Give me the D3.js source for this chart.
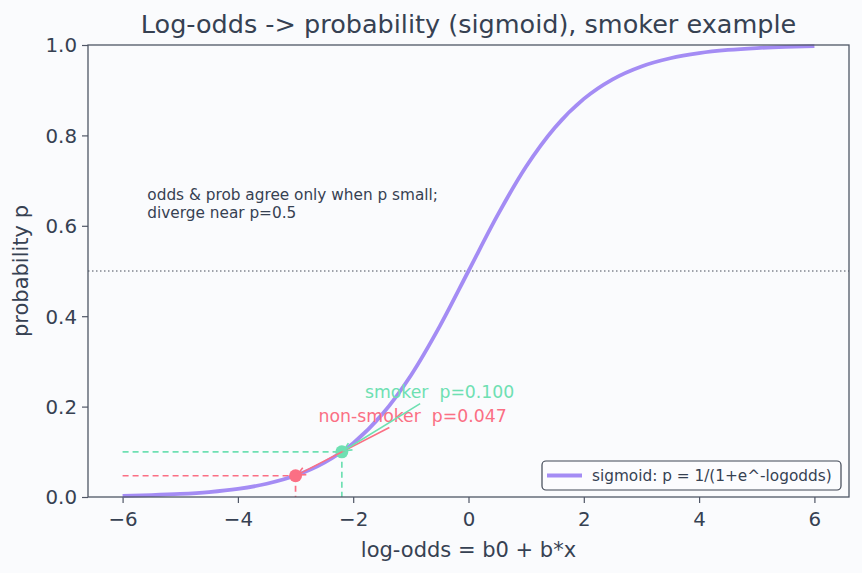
<!DOCTYPE html>
<html><head><meta charset="utf-8">
<script src="https://cdn.jsdelivr.net/npm/d3@7"></script>
<style>
html,body{margin:0;padding:0;background:#fafbfd;}
svg{display:block;font-family:"DejaVu Sans",sans-serif;}
</style></head>
<body><svg id="c" width="862" height="573"></svg>
<script>
// log-odds grid and sigmoid probabilities
const logodds = [-6,-5.5,-5,-4.5,-4,-3.5,-3,-2.5,-2,-1.5,-1,-0.5,0,0.5,1,1.5,2,2.5,3,3.5,4,4.5,5,5.5,6];
const prob = [0.0025,0.0041,0.0067,0.0110,0.0180,0.0293,0.0474,0.0759,0.1192,0.1824,0.2689,0.3775,0.5,0.6225,0.7311,0.8176,0.8808,0.9241,0.9526,0.9707,0.9820,0.9890,0.9933,0.9959,0.9975];
const groups = ["non-smoker","smoker"];
const groupLogodds = [-3.0, -2.197];
const groupProb = [0.047, 0.100];
const groupColors = ["#fb6f84","#6ee0b2"];
const xTicks = [-6,-4,-2,0,2,4,6];
const yTicks = [0,0.2,0.4,0.6,0.8,1.0];

const svg = d3.select("#c");
const m = {l:88, r:849, t:45, b:497};
const x = d3.scaleLinear().domain([-6.6,6.6]).range([m.l,m.r]);
const y = d3.scaleLinear().domain([0,1]).range([m.b,m.t]);
const ink = "#364152", spine = "#4f5666";

svg.append("rect").attr("width",862).attr("height",573).attr("fill","#fafbfd");

// axes
const gx = svg.append("g").attr("transform",`translate(0,${m.b})`)
  .call(d3.axisBottom(x).tickValues(xTicks).tickSize(6).tickPadding(5).tickFormat(d=>d<0?"\u2212"+Math.abs(d):d));
const gy = svg.append("g").attr("transform",`translate(${m.l},0)`)
  .call(d3.axisLeft(y).tickValues(yTicks).tickSize(6).tickPadding(5).tickFormat(d3.format(".1f")));
[gx,gy].forEach(g=>{
  g.select(".domain").remove();
  g.selectAll(".tick line").attr("stroke",spine).attr("stroke-width",1.2);
  g.selectAll(".tick text").attr("fill",ink).attr("font-size",19.8).attr("font-family","DejaVu Sans");
});
gx.selectAll(".tick text").attr("dy","0.9em");
gy.selectAll(".tick text").attr("dy","0.35em");

// dotted p = 0.5 line
svg.append("line").attr("x1",m.l).attr("x2",m.r).attr("y1",y(0.5)).attr("y2",y(0.5))
  .attr("stroke","#444b58").attr("stroke-width",1).attr("stroke-dasharray","1.5,2.5");

// dashed guides
groups.forEach((g,i)=>{
  svg.append("line").attr("x1",x(-6)).attr("x2",x(groupLogodds[i])).attr("y1",y(groupProb[i])).attr("y2",y(groupProb[i]))
    .attr("stroke",groupColors[i]).attr("stroke-width",1.7).attr("stroke-dasharray","6,4");
  svg.append("line").attr("x1",x(groupLogodds[i])).attr("x2",x(groupLogodds[i])).attr("y1",y(groupProb[i])).attr("y2",y(0))
    .attr("stroke",groupColors[i]).attr("stroke-width",1.7).attr("stroke-dasharray","6,4");
});

// sigmoid
const pts = logodds.map((v,i)=>[v,prob[i]]);
svg.append("path").datum(pts)
  .attr("d",d3.line().x(d=>x(d[0])).y(d=>y(d[1])).curve(d3.curveMonotoneX))
  .attr("fill","none").attr("stroke","#a48cf4").attr("stroke-width",3.8);

// points
groups.forEach((g,i)=>{
  svg.append("circle").attr("cx",x(groupLogodds[i])).attr("cy",y(groupProb[i])).attr("r",6.5).attr("fill",groupColors[i]);
});

// annotations
groups.forEach((g,i)=>{
  const tx = x(groupLogodds[i]+0.4), ty = y(groupProb[i]+0.12);
  const t = svg.append("text").attr("x",tx).attr("y",ty).attr("fill",groupColors[i])
    .attr("font-size",17.3).attr("xml:space","preserve").style("white-space","pre")
    .text(`${g}  p=${groupProb[i].toFixed(3)}`);
  const bb = t.node().getBBox();
  const cx = bb.x+bb.width/2, cy = bb.y+bb.height/2;
  const px = x(groupLogodds[i]), py = y(groupProb[i]);
  const dx = px-cx, dy = py-cy;
  const tb = (bb.y+bb.height+2-cy)/dy;
  const sx = cx+dx*tb, sy = cy+dy*tb;
  const L = Math.hypot(px-sx,py-sy);
  const ex = px-(px-sx)/L*2, ey = py-(py-sy)/L*2;
  svg.append("line").attr("x1",sx).attr("y1",sy).attr("x2",ex).attr("y2",ey)
    .attr("stroke",groupColors[i]).attr("stroke-width",1.6);
  const ang = Math.atan2(ey-sy,ex-sx);
  const hl = 9, ha = 0.45;
  const p1 = [ex-hl*Math.cos(ang-ha), ey-hl*Math.sin(ang-ha)];
  const p2 = [ex-hl*Math.cos(ang+ha), ey-hl*Math.sin(ang+ha)];
  svg.append("path").attr("d",`M${p1}L${ex},${ey}L${p2}`).attr("fill","none")
    .attr("stroke",groupColors[i]).attr("stroke-width",1.6);
});

// note text
const nx = m.l+0.078*(m.r-m.l);
const note = svg.append("text").attr("fill",ink).attr("font-size",15.3);
note.append("tspan").attr("x",nx).attr("y",200).text("odds & prob agree only when p small;");
note.append("tspan").attr("x",nx).attr("y",218).text("diverge near p=0.5");

// frame
svg.append("rect").attr("x",m.l).attr("y",m.t).attr("width",m.r-m.l).attr("height",m.b-m.t)
  .attr("fill","none").attr("stroke",spine).attr("stroke-width",1.3);

// title & labels
svg.append("text").attr("x",(m.l+m.r)/2).attr("y",33).attr("text-anchor","middle").attr("fill",ink)
  .attr("font-size",25.5).text("Log-odds -> probability (sigmoid), smoker example");
svg.append("text").attr("x",(m.l+m.r)/2).attr("y",557).attr("text-anchor","middle").attr("fill",ink)
  .attr("font-size",21).text("log-odds = b0 + b*x");
svg.append("text").attr("transform",`translate(28,${(m.t+m.b)/2}) rotate(-90)`).attr("text-anchor","middle").attr("fill",ink)
  .attr("font-size",21).text("probability p");

// legend
const lg = svg.append("g");
lg.append("rect").attr("x",542).attr("y",461).attr("width",299).attr("height",29).attr("rx",4)
  .attr("fill","#fcfcfe").attr("stroke","#3f4654").attr("stroke-width",1.2);
lg.append("line").attr("x1",547).attr("x2",582).attr("y1",475.5).attr("y2",475.5).attr("stroke","#a48cf4").attr("stroke-width",3.8);
lg.append("text").attr("x",592).attr("y",481).attr("fill",ink).attr("font-size",15.3).text("sigmoid: p = 1/(1+e^-logodds)");
</script></body></html>
